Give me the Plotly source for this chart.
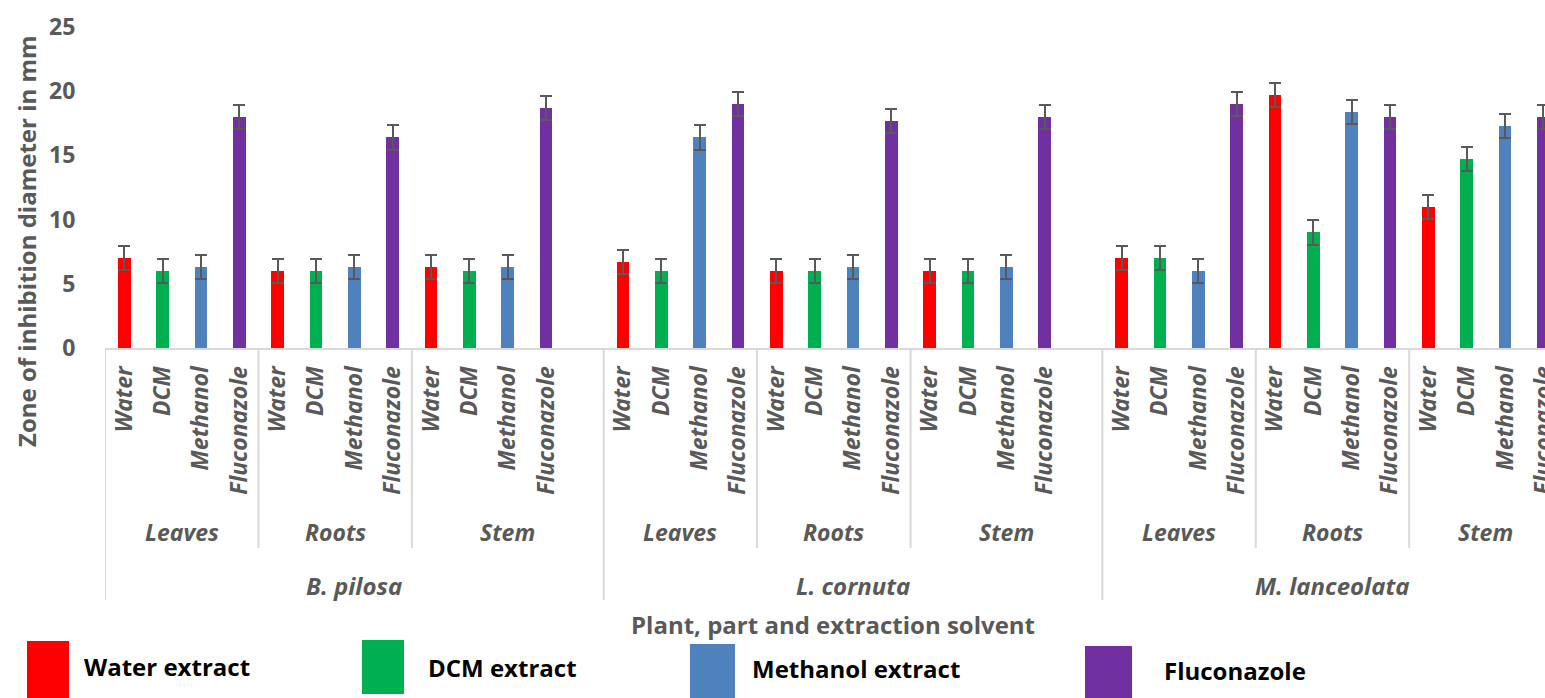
import plotly.graph_objects as go

# Antifungal activity: zone of inhibition (mm) per plant, part and solvent
plants = ["B. pilosa", "L. cornuta", "M. lanceolata"]
parts = ["Leaves", "Roots", "Stem"]
solvents = ["Water", "DCM", "Methanol", "Fluconazole"]
legend_names = ["Water extract", "DCM extract", "Methanol extract", "Fluconazole"]

# values ordered plant -> part (Leaves, Roots, Stem)
water = [7.0, 6.0, 6.3, 6.7, 6.0, 6.0, 7.0, 19.7, 11.0]
dcm = [6.0, 6.0, 6.0, 6.0, 6.0, 6.0, 7.0, 9.0, 14.7]
methanol = [6.3, 6.3, 6.3, 16.4, 6.3, 6.3, 6.0, 18.4, 17.3]
fluconazole = [18.0, 16.4, 18.7, 19.0, 17.7, 18.0, 19.0, 18.0, 18.0]

# standard deviations (mm)
water_sd = [0.95, 0.95, 0.95, 0.95, 0.95, 0.95, 0.95, 0.95, 0.95]
dcm_sd = [0.95, 0.95, 0.95, 0.95, 0.95, 0.95, 0.95, 0.95, 0.95]
methanol_sd = [0.95, 0.95, 0.95, 0.95, 0.95, 0.95, 0.95, 0.95, 0.95]
fluconazole_sd = [0.95, 0.95, 0.95, 0.95, 0.95, 0.95, 0.95, 0.95, 0.95]

colors = ["#FF0000", "#00B050", "#4F81BD", "#7030A0"]
GRAY = "#595959"
LINE = "#D9D9D9"
FONT = "Open Sans"

# figure geometry (pixels)
W, H = 1545, 698
ML, MT, MB = 105, 27, 350
PLOT_W = W - ML
PLOT_H = H - MT - MB
X_MAX = 37.04  # the last plant group runs past the right edge


def paper_x(px):
    return (px - ML) / PLOT_W


def paper_y(py):
    return (H - MB - py) / PLOT_H


# slot layout: every plant block holds 13 slots, the Stem group of the first
# two plants carries one empty slot at its end
SLOTS_PER_PLANT = 13


def slot(p, k, s):
    return p * SLOTS_PER_PLANT + k * 4 + s


series = [water, dcm, methanol, fluconazole]
sds = [water_sd, dcm_sd, methanol_sd, fluconazole_sd]

fig = go.Figure()
tick_vals, tick_text = [], []
for s, (vals, sd) in enumerate(zip(series, sds)):
    xs = []
    for p in range(len(plants)):
        for k in range(len(parts)):
            xs.append(slot(p, k, s))
    tick_vals += xs
    tick_text += [solvents[s]] * len(xs)
    fig.add_trace(go.Bar(
        x=xs, y=vals, width=0.33, name=legend_names[s],
        marker=dict(color=colors[s], line=dict(width=0)),
        error_y=dict(type="data", array=sd, visible=True, color=GRAY,
                     thickness=2, width=6),
        showlegend=False,
    ))

# multi-level category axis: part and plant labels with separators
shapes, annotations = [], []
part_font = dict(family=FONT, size=23, color=GRAY, weight="bold", style="italic")
plant_font = dict(family=FONT, size=24, color=GRAY, weight="bold", style="italic")
for p, plant in enumerate(plants):
    start = p * SLOTS_PER_PLANT - 0.5
    n_slots = SLOTS_PER_PLANT if p < len(plants) - 1 else 12
    end = start + n_slots
    shapes.append(dict(type="line", xref="x", yref="paper", x0=start, x1=start,
                       y0=paper_y(348), y1=paper_y(600),
                       line=dict(color=LINE, width=2)))
    annotations.append(dict(x=(start + end) / 2, y=paper_y(585), xref="x", yref="paper",
                            text=plant, showarrow=False, font=plant_font,
                            xanchor="center", yanchor="middle"))
    for k, part in enumerate(parts):
        ps = start + k * 4
        width = 4
        if k == len(parts) - 1:
            width = n_slots - 8
        pe = ps + width
        if k > 0:
            shapes.append(dict(type="line", xref="x", yref="paper", x0=ps, x1=ps,
                               y0=paper_y(348), y1=paper_y(548),
                               line=dict(color=LINE, width=2)))
        annotations.append(dict(x=(ps + pe) / 2, y=paper_y(532), xref="x", yref="paper",
                                text=part, showarrow=False, font=part_font,
                                xanchor="center", yanchor="middle"))

# axis titles
title_font = dict(family=FONT, size=24, color=GRAY, weight="bold")
annotations.append(dict(x=paper_x(26), y=paper_y(241), xref="paper", yref="paper",
                        text="Zone of inhibition diameter in mm", textangle=-90,
                        showarrow=False, font=title_font,
                        xanchor="center", yanchor="middle"))
annotations.append(dict(x=paper_x(833), y=paper_y(624), xref="paper", yref="paper",
                        text="Plant, part and extraction solvent",
                        showarrow=False, font=title_font,
                        xanchor="center", yanchor="middle"))

# legend drawn as swatches with labels along the bottom
swatches = [(27, 69, 641, 698), (362, 404, 640, 694), (690, 735, 644, 698), (1085, 1132, 646, 698)]
label_pos = [(82, 666), (426, 667), (750, 668), (1162, 671)]
legend_font = dict(family=FONT, size=24, color="#000000", weight="bold")
for (x0, x1, y0, y1), (lx, ly), c, name in zip(swatches, label_pos, colors, legend_names):
    shapes.append(dict(type="rect", xref="paper", yref="paper",
                       x0=paper_x(x0), x1=paper_x(x1), y0=paper_y(y1), y1=paper_y(y0),
                       fillcolor=c, line=dict(width=0)))
    annotations.append(dict(x=paper_x(lx), y=paper_y(ly), xref="paper", yref="paper",
                            text=name, showarrow=False, font=legend_font,
                            xanchor="left", yanchor="middle"))

fig.update_layout(
    width=W, height=H, autosize=False,
    margin=dict(l=ML, r=0, t=MT, b=MB, pad=0, autoexpand=False),
    paper_bgcolor="white", plot_bgcolor="white",
    barmode="overlay", bargap=0,
    shapes=shapes, annotations=annotations,
    xaxis=dict(
        range=[-0.5, X_MAX], tickmode="array", tickvals=tick_vals, ticktext=tick_text,
        tickangle=-90, showgrid=False, zeroline=False, automargin=False,
        showline=True, linecolor=LINE, linewidth=2,
        ticks="outside", ticklen=0, ticklabelstandoff=7,
        ticklabeloverflow="allow",
        tickfont=dict(family=FONT, size=23, color=GRAY, weight="bold", style="italic"),
    ),
    yaxis=dict(
        range=[0, 25], dtick=5, tick0=0, showgrid=False, zeroline=False, showline=False,
        automargin=False,
        ticks="outside", ticklen=0, ticklabelstandoff=24,
        tickfont=dict(family=FONT, size=23, color=GRAY, weight="bold"),
    ),
)

fig.write_html("out.html")
